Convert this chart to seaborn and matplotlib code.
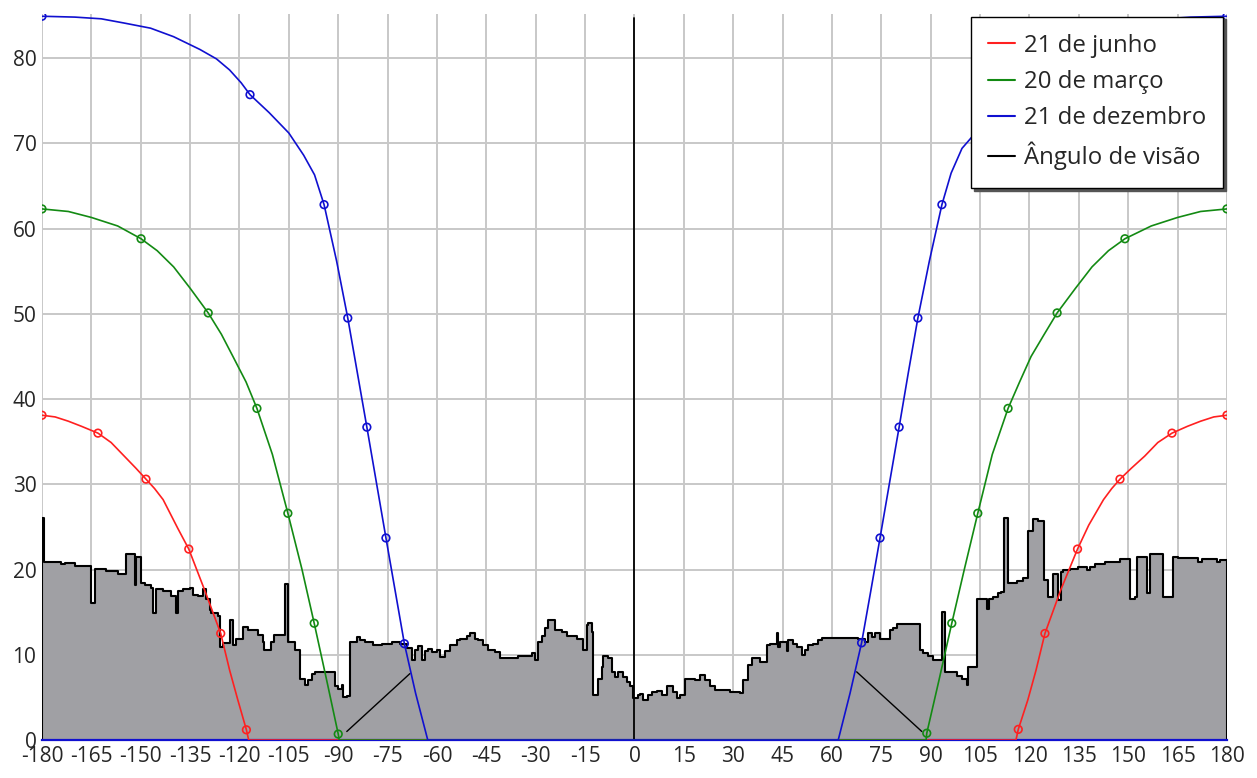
import matplotlib
matplotlib.use("Agg")
import matplotlib.pyplot as plt
import seaborn as sns

# ---------------- data ----------------
# horizon profile: step start azimuth and obstruction altitude
prof_az = [-180, -179.4, -174.1, -173.1, -170.1, -165.2, -163.8, -160.5, -156.9, -154.4,
           -151.8, -151.3, -150.0, -148.8, -146.8, -146.3, -145.3, -143.2, -140.7, -139.2,
           -138.7, -137.2, -135.1, -134.1, -132.6, -131.1, -130.1, -129.1, -128.6, -126.5,
           -126.0, -125.0, -123.0, -122.0, -121.0, -118.9, -117.4, -114.4, -112.9, -112.4,
           -110.4, -109.4, -106.2, -105.2, -103.1, -101.6, -100.1, -99.1, -98.1, -97.1,
           -91.0, -90.0, -89.0, -88.5, -87.4, -86.4, -84.4, -83.4, -81.9, -79.4,
           -76.8, -73.8, -71.2, -69.2, -67.7, -66.7, -65.7, -64.6, -63.6, -62.6,
           -61.6, -60.1, -59.1, -57.6, -56.1, -54.0, -53.0, -51.0, -50.0, -48.5,
           -47.5, -45.9, -44.4, -42.4, -40.9, -35.3, -31.2, -30.2, -29.2, -28.2,
           -27.2, -26.2, -24.2, -22.1, -20.6, -17.6, -15.6, -14.5, -14.0, -13.0,
           -12.5, -11.0, -10.0, -9.5, -8.0, -6.9, -5.9, -4.9, -3.4, -2.4,
           -1.4, -0.4, 1.2, 1.7, 2.7, 4.2, 5.2, 6.7, 8.3, 9.8,
           11.8, 12.8, 13.8, 15.3, 18.4, 19.9, 21.4, 22.9, 24.5, 29.0,
           32.1, 33.1, 34.6, 35.6, 38.1, 40.2, 41.2, 43.2, 43.7, 44.2,
           46.2, 46.7, 48.2, 49.3, 50.8, 51.8, 52.8, 54.3, 55.8, 56.9,
           68.0, 70.0, 71.0, 72.1, 73.1, 74.6, 77.6, 78.6, 79.7, 86.7,
           87.7, 89.3, 90.8, 93.3, 94.3, 97.9, 99.4, 100.9, 101.4, 104.0,
           106.0, 107.0, 107.8, 109.0, 110.5, 111.5, 112.3, 113.6, 116.1, 118.1,
           119.6, 121.2, 122.7, 124.4, 125.7, 127.2, 128.7, 129.5, 130.3, 132.3,
           134.8, 137.4, 138.4, 139.9, 142.9, 147.5, 150.5, 152.1, 152.8, 155.6,
           156.6, 160.7, 163.7, 165.2, 171.3, 172.3, 176.9, 177.9]
prof_alt = [26.0, 20.9, 20.6, 20.8, 20.45, 16.1, 20.1, 19.8, 19.5, 21.8,
            18.2, 21.5, 18.4, 18.2, 17.8, 14.9, 17.7, 17.5, 16.9, 14.9,
            17.5, 17.7, 17.8, 17.0, 16.9, 17.7, 16.5, 15.3, 14.9, 14.5,
            10.9, 11.4, 14.1, 11.2, 11.9, 13.3, 12.9, 12.3, 11.5, 10.6,
            11.5, 12.3, 18.3, 11.5, 10.6, 7.2, 6.4, 7.0, 7.8, 8.0,
            6.35, 6.0, 6.4, 5.1, 5.2, 11.5, 12.1, 11.7, 11.5, 11.1,
            11.3, 11.5, 11.3, 10.75, 9.4, 10.6, 11.0, 9.4, 10.5, 10.7,
            10.3, 10.6, 9.7, 10.5, 11.1, 11.7, 11.9, 12.2, 12.5, 11.9,
            11.7, 11.2, 10.6, 10.3, 9.6, 9.8, 10.2, 9.4, 11.5, 12.2,
            13.1, 14.1, 12.9, 12.7, 12.2, 11.9, 10.6, 13.5, 13.7, 12.7,
            5.3, 7.2, 8.6, 9.8, 9.6, 8.0, 7.4, 8.0, 7.4, 6.8,
            6.3, 4.9, 5.3, 5.4, 4.7, 5.3, 5.6, 5.8, 5.3, 6.3,
            5.6, 4.9, 5.3, 7.2, 7.1, 7.6, 7.0, 6.3, 5.9, 5.6,
            5.5, 7.0, 8.8, 9.6, 9.2, 11.1, 11.3, 12.5, 10.9, 11.5,
            10.4, 11.7, 11.3, 10.9, 10.0, 10.6, 11.1, 11.3, 11.7, 12.0,
            11.9, 11.5, 12.5, 12.1, 12.6, 11.8, 12.9, 13.2, 13.6, 10.6,
            10.2, 9.8, 9.4, 15.0, 8.0, 7.5, 7.2, 6.5, 8.6, 16.6,
            16.5, 15.4, 16.6, 16.8, 17.2, 17.4, 26.0, 18.4, 18.6, 19.0,
            24.5, 25.9, 25.7, 18.8, 16.8, 19.5, 16.4, 19.7, 19.9, 20.1,
            20.3, 20.0, 20.3, 20.6, 20.9, 21.2, 16.6, 16.8, 21.5, 17.3,
            21.8, 16.8, 21.5, 21.4, 20.9, 21.2, 20.9, 21.1]

# 21 de junho (sun path)
jun_az = [-180, -176, -172, -168, -163.0, -159, -155, -151.5, -148.4, -145.8,
          -143.2, -138.7, -135.4, -130.6, -125.7, -123.0, -120.5, -117.9, -117.2,
          115.9, 116.6, 119.5, 122.0, 124.7, 129.5, 134.6, 138.0, 142.5, 145.0,
          147.5, 151.0, 155, 159, 163.3, 168, 172, 176, 180]
jun_alt = [38.1, 37.9, 37.4, 36.8, 36.0, 34.9, 33.3, 31.9, 30.6, 29.5,
           28.2, 24.8, 22.4, 17.6, 12.5, 8.2, 4.7, 1.2, 0,
           0, 1.25, 4.7, 8.2, 12.5, 17.6, 22.4, 25.2, 28.2, 29.5,
           30.6, 31.9, 33.3, 34.9, 36.0, 36.8, 37.4, 37.9, 38.1]
jun_mk_az = [-180, -163.0, -148.4, -135.4, -125.7, -117.9, 116.6, 124.7, 134.6, 147.5, 163.3, 180]
jun_mk_alt = [38.1, 36.0, 30.6, 22.4, 12.5, 1.2, 1.25, 12.5, 22.4, 30.6, 36.0, 38.1]

# 20 de marco
mar_az = [-180, -172, -165, -157, -149.9, -145, -140, -135, -129.5, -125.5,
          -122, -118, -114.7, -110, -105.3, -101, -97.3, -93.5, -90.0, -89.7,
          88.6, 88.8, 92.5, 96.4, 100.2, 104.3, 108.7, 113.5, 117, 120.5,
          124.5, 128.4, 134, 139, 144, 149.0, 157, 165, 172, 180]
mar_alt = [62.3, 62.0, 61.3, 60.3, 58.8, 57.4, 55.5, 53.0, 50.1, 47.6,
           45.0, 42.0, 38.9, 33.5, 26.6, 20.0, 13.7, 7.0, 0.7, 0,
           0, 0.8, 7.0, 13.7, 20.0, 26.6, 33.5, 38.9, 42.0, 45.0,
           47.6, 50.1, 53.0, 55.5, 57.4, 58.8, 60.3, 61.3, 62.0, 62.3]
mar_mk_az = [-180, -149.9, -129.5, -114.7, -105.3, -97.3, -90.0, 88.8, 96.4, 104.3, 113.5, 128.4, 149.0, 180]
mar_mk_alt = [62.3, 58.8, 50.1, 38.9, 26.6, 13.7, 0.7, 0.8, 13.7, 26.6, 38.9, 50.1, 58.8, 62.3]

# 21 de dezembro
dez_az = [-180, -170, -162, -155, -147, -140, -132, -127, -123, -119.5,
          -116.8, -111, -105, -100.5, -97.2, -94.3, -90.5, -87.1, -84.2, -81.3,
          -78.4, -75.5, -72.7, -69.9, -66.5, -62.8,
          61.9, 65.5, 69.0, 71.8, 74.6, 77.5, 80.4, 83.2, 86.1, 89.6,
          93.4, 96.2, 99.5, 104, 110, 116, 118.7, 122, 126, 131,
          139, 146, 154, 161, 169, 180]
dez_alt = [84.9, 84.8, 84.6, 84.1, 83.5, 82.5, 81.0, 79.9, 78.6, 77.1,
           75.7, 73.6, 71.2, 68.6, 66.3, 62.8, 56.2, 49.5, 43.1, 36.7,
           30.2, 23.7, 17.5, 11.3, 5.5, 0,
           0, 5.5, 11.4, 17.5, 23.7, 30.2, 36.7, 43.1, 49.5, 56.2,
           62.8, 66.5, 69.4, 71.4, 73.8, 75.7, 77.1, 78.6, 79.9, 81.0,
           82.5, 83.5, 84.1, 84.6, 84.8, 84.9]
dez_mk_az = [-180, -116.8, -94.3, -87.1, -81.3, -75.5, -69.9, 69.0, 74.6, 80.4, 86.1, 93.4, 116, 180]
dez_mk_alt = [84.9, 75.7, 62.8, 49.5, 36.7, 23.7, 11.3, 11.4, 23.7, 36.7, 49.5, 62.8, 75.7, 84.9]

# Angulo de visao
vis_az = [0, 0]
vis_alt = [0, 84.7]
guide_l_az = [-87.4, -68.2]
guide_l_alt = [1.0, 7.8]
guide_r_az = [67.5, 87.3]
guide_r_alt = [8.0, 1.0]

x_ticks = list(range(-180, 181, 15))
y_ticks = list(range(0, 81, 10))

labels = ["21 de junho", "20 de março", "21 de dezembro", "Ângulo de visão"]
colors = ["#ff2020", "#138a13", "#1010d0", "#000000"]

# ---------------- figure ----------------
sns.set_theme(style="white")
plt.rcParams["font.family"] = ["Open Sans", "DejaVu Sans"]

fig = plt.figure(figsize=(12.57, 7.78), dpi=100)
ax = fig.add_axes([0.0334, 0.0488, 0.9427, 0.9336])

# horizon profile
px = [-180] + prof_az + [180, 180]
py = [0] + prof_alt + [prof_alt[-1], 0]
ax.fill_between(prof_az + [180], prof_alt + [prof_alt[-1]], 0, step="post",
                color="#a0a0a4", linewidth=0, zorder=1)
sns.lineplot(x=px, y=py, sort=False, estimator=None, drawstyle="steps-post",
             color="black", linewidth=1.5, zorder=2, ax=ax)

# sun paths
series = [(jun_az, jun_alt, jun_mk_az, jun_mk_alt),
          (mar_az, mar_alt, mar_mk_az, mar_mk_alt),
          (dez_az, dez_alt, dez_mk_az, dez_mk_alt)]
for (xa, ya, mx, my), lab, col in zip(series, labels[:3], colors[:3]):
    sns.lineplot(x=xa, y=ya, sort=False, estimator=None, color=col,
                 linewidth=1.2, label=lab, zorder=4, ax=ax)
    sns.scatterplot(x=mx, y=my, color="none", edgecolor=col, s=30,
                    linewidth=1.2, zorder=5, ax=ax)

# viewing angle
sns.lineplot(x=vis_az, y=vis_alt, sort=False, estimator=None, color="black",
             linewidth=1.3, label=labels[3], zorder=3, ax=ax)
for gx, gy in [(guide_l_az, guide_l_alt), (guide_r_az, guide_r_alt)]:
    sns.lineplot(x=gx, y=gy, sort=False, estimator=None, color="black",
                 linewidth=1.0, zorder=3, ax=ax)

ax.set_xlim(-180, 180)
ax.set_ylim(0, 85.2)
ax.set_xticks(x_ticks)
ax.set_xticklabels([str(t) for t in x_ticks])
ax.set_yticks(y_ticks)
ax.set_yticklabels([str(t) for t in y_ticks])
ax.tick_params(axis="both", length=0, labelsize=15, colors="#262626", pad=4)
ax.grid(True, color="#c8c8c8", linewidth=1.4)
ax.set_axisbelow(True)
ax.set_xlabel("")
ax.set_ylabel("")
for side in ["top", "right", "left"]:
    ax.spines[side].set_visible(False)
ax.spines["bottom"].set_color("#1010d0")
ax.spines["bottom"].set_linewidth(1.6)

handles, labs = ax.get_legend_handles_labels()
order = [labs.index(l) for l in labels]
leg = ax.legend([handles[i] for i in order], [labs[i] for i in order],
                loc="upper right", bbox_to_anchor=(0.9968, 0.996),
                fontsize=17.3, frameon=True, fancybox=False, framealpha=1,
                edgecolor="black", shadow={"color": "#555555", "alpha": 1},
                handlelength=1.12, handletextpad=0.35, labelspacing=0.5,
                borderpad=0.72, borderaxespad=0)
leg.get_frame().set_linewidth(1.0)
leg.set_zorder(10)
for line in leg.get_lines():
    line.set_linewidth(1.5)

fig.savefig("out.png", dpi=100, facecolor="white")
